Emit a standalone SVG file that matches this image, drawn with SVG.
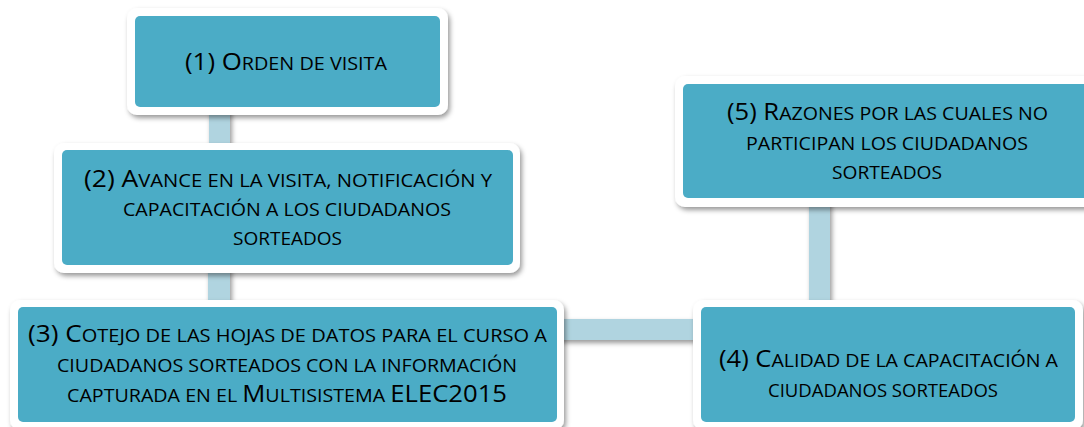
<svg xmlns="http://www.w3.org/2000/svg" width="1084" height="427" viewBox="0 0 1084 427">
<defs>
<filter id="sh" filterUnits="userSpaceOnUse" x="-20" y="-20" width="1130" height="470">
<feDropShadow dx="2" dy="3" stdDeviation="2.5" flood-color="#000" flood-opacity="0.4"/>
</filter>
<style>
.outer{fill:#fff;filter:url(#sh)}
.box{fill:#4bacc6}
.conn{fill:#b0d4e0;filter:url(#sh)}
text{font-family:"Open Sans","Noto Sans","Liberation Sans",sans-serif;font-size:23.5px;fill:#000;text-anchor:middle}
.s{font-size:18px;text-transform:uppercase}
</style>
</defs>
<rect width="1084" height="427" fill="#fff"/>
<g id="connectors">
<rect class="conn" x="209" y="105" width="21" height="47"/>
<rect class="conn" x="208" y="263" width="22" height="46"/>
<rect class="conn" x="555" y="319" width="148" height="21"/>
<rect class="conn" x="809" y="196" width="21" height="113"/>
</g>
<g id="node1">
<rect class="outer" x="127" y="8" width="321" height="107" rx="10"/>
<rect class="box" x="135" y="16" width="305" height="91" rx="5"/>
<text x="286" y="70" textLength="202" lengthAdjust="spacingAndGlyphs">(1) O<tspan class="s">rden de visita</tspan></text>
</g>
<g id="node2">
<rect class="outer" x="54" y="143" width="466" height="130" rx="10"/>
<rect class="box" x="62" y="150" width="451" height="115" rx="5"/>
<text x="288" y="187" textLength="408" lengthAdjust="spacingAndGlyphs">(2) A<tspan class="s">vance en la visita, notificación y</tspan></text>
<text x="287" y="216" textLength="328" lengthAdjust="spacingAndGlyphs"><tspan class="s">capacitación a los ciudadanos</tspan></text>
<text x="287.5" y="245" textLength="109" lengthAdjust="spacingAndGlyphs"><tspan class="s">sorteados</tspan></text>
</g>
<g id="node3">
<rect class="outer" x="10" y="300" width="554" height="130" rx="10"/>
<rect class="box" x="18" y="307" width="539" height="115" rx="5"/>
<text x="287.5" y="342" textLength="519" lengthAdjust="spacingAndGlyphs">(3) C<tspan class="s">otejo de las hojas de datos para el curso a</tspan></text>
<text x="287" y="372" textLength="460" lengthAdjust="spacingAndGlyphs"><tspan class="s">ciudadanos sorteados con la información</tspan></text>
<text x="287" y="402" textLength="440" lengthAdjust="spacingAndGlyphs"><tspan class="s">capturada en el </tspan>M<tspan class="s">ultisistema </tspan>ELEC2015</text>
</g>
<g id="node4">
<rect class="outer" x="693" y="300" width="390" height="130" rx="10"/>
<rect class="box" x="701" y="307" width="374" height="115" rx="5"/>
<text x="888.5" y="367" textLength="339" lengthAdjust="spacingAndGlyphs">(4) C<tspan class="s">alidad de la capacitación a</tspan></text>
<text x="883" y="397" textLength="230" lengthAdjust="spacingAndGlyphs"><tspan class="s">ciudadanos sorteados</tspan></text>
</g>
<g id="node5">
<rect class="outer" x="675" y="76" width="425" height="131" rx="10"/>
<rect class="box" x="683" y="84" width="409" height="114" rx="5"/>
<text x="887.5" y="120" textLength="321" lengthAdjust="spacingAndGlyphs">(5) R<tspan class="s">azones por las cuales no</tspan></text>
<text x="887" y="150" textLength="282" lengthAdjust="spacingAndGlyphs"><tspan class="s">participan los ciudadanos</tspan></text>
<text x="887" y="179" textLength="110" lengthAdjust="spacingAndGlyphs"><tspan class="s">sorteados</tspan></text>
</g>
</svg>
